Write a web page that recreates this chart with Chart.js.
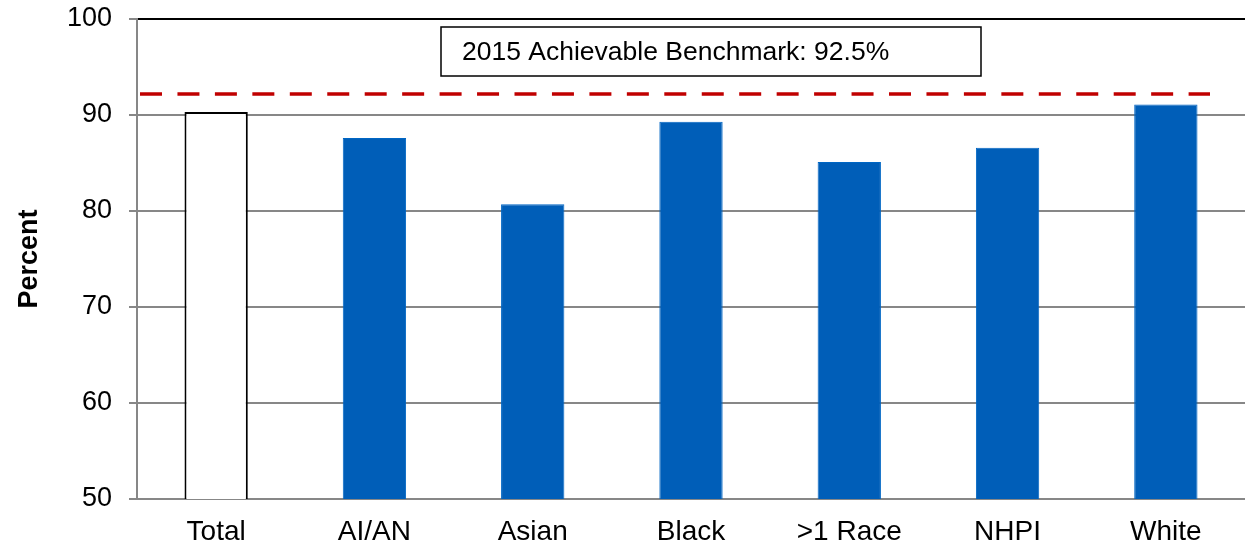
<!DOCTYPE html>
<html>
<head>
<meta charset="utf-8">
<script src="https://cdn.jsdelivr.net/npm/chart.js@4/dist/chart.umd.min.js"></script>
<style>
  html, body { margin: 0; padding: 0; background: #fff; }
  #wrap { width: 1245px; height: 544px; position: relative; }
</style>
</head>
<body>
<div id="wrap"><canvas id="raceChart"></canvas></div>
<script>
const categories = ["Total", "AI/AN", "Asian", "Black", ">1 Race", "NHPI", "White"];
const percentValues = [90.3, 87.6, 80.7, 89.3, 85.1, 86.6, 91.1];
const yTicks = [50, 60, 70, 80, 90, 100];
const benchmarkValue = 92.2;
const benchmarkLabel = "2015 Achievable Benchmark: 92.5%";

const FONT = "'Liberation Sans', Arial, sans-serif";
const GRID = "#878787";

// red dashed benchmark line + the boxed label above it
const benchmarkPlugin = {
  id: "benchmark",
  afterDatasetsDraw(chart) {
    const { ctx, chartArea, scales } = chart;
    const y = scales.y.getPixelForValue(benchmarkValue);
    ctx.save();
    ctx.strokeStyle = "#C00000";
    ctx.lineWidth = 3.5;
    ctx.setLineDash([22, 15.45]);
    ctx.beginPath();
    ctx.moveTo(chartArea.left + 3, y);
    ctx.lineTo(chartArea.right - 35, y);
    ctx.stroke();
    ctx.setLineDash([]);

    const bx = chartArea.left + 304, by = chartArea.top + 8, bw = 540, bh = 49;
    ctx.fillStyle = "#fff";
    ctx.fillRect(bx, by, bw, bh);
    ctx.strokeStyle = "#000";
    ctx.lineWidth = 1.5;
    ctx.strokeRect(bx, by, bw, bh);
    ctx.fillStyle = "#000";
    ctx.font = "26.5px " + FONT;
    ctx.textBaseline = "middle";
    ctx.fillText(benchmarkLabel, bx + 21, by + bh / 2 + 1);
    ctx.restore();
  }
};

new Chart(document.getElementById("raceChart"), {
  type: "bar",
  data: {
    labels: categories,
    datasets: [{
      data: percentValues,
      backgroundColor: categories.map((c, i) => i === 0 ? "#ffffff" : "#005EB8"),
      borderColor: categories.map((c, i) => i === 0 ? "#000000" : "#0066C4"),
      borderWidth: categories.map((c, i) => i === 0 ? 2 : 1),
      barPercentage: 0.4,
      categoryPercentage: 1.0
    }]
  },
  options: {
    responsive: true,
    maintainAspectRatio: false,
    animation: false,
    layout: { padding: { top: 19, right: 0, left: 0, bottom: 0 } },
    plugins: { legend: { display: false }, tooltip: { enabled: false } },
    scales: {
      x: {
        grid: { display: false },
        border: { display: true, color: GRID, width: 2 },
        ticks: { color: "#000", font: { family: FONT, size: 28 }, padding: 8, maxRotation: 0 },
        afterFit(scale) { scale.height = 45; scale.paddingLeft = 0; scale.paddingRight = 0; }
      },
      y: {
        min: 50,
        max: 100,
        afterBuildTicks(scale) { scale.ticks = yTicks.map(v => ({ value: v })); },
        grid: {
          color: (c) => c.tick && c.tick.value === 100 ? "#000" : GRID,
          lineWidth: 2,
          tickColor: GRID,
          tickLength: 8
        },
        border: { display: true, color: GRID, width: 2 },
        ticks: { color: "#000", font: { family: FONT, size: 27 }, padding: 17 },
        title: {
          display: true,
          text: "Percent",
          color: "#000",
          font: { family: FONT, size: 27, weight: "bold" },
          padding: { top: 13, bottom: 0 }
        },
        afterFit(scale) { scale.width = 137; scale.paddingTop = 0; scale.paddingBottom = 0; }
      }
    }
  },
  plugins: [benchmarkPlugin]
});
</script>
</body>
</html>
